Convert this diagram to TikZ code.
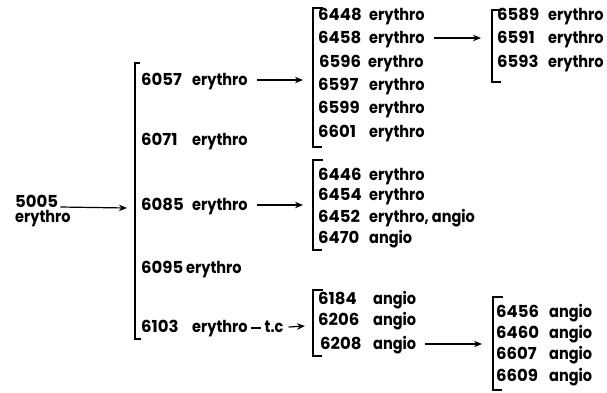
\documentclass[tikz,border=0pt]{standalone}
\usepackage{fontspec}
\setmainfont{Poppins}
\newfontfamily\numf{Poppins}
\newfontfamily\wordf{Poppins}[FakeStretch=0.88]
\usetikzlibrary{arrows.meta}
\newcommand{\ent}[3][51pt]{\makebox[#1][l]{\numf #2}{\wordf #3}}
\tikzset{
  item/.style={anchor=west, inner sep=0pt, text height=11pt, text depth=0pt, font=\fontsize{16.5}{18}\selectfont\bfseries},
  brk/.style={line width=1.4pt},
  arr/.style={line width=1.2pt, -{Stealth[length=8pt,width=6.5pt]}},
}
\begin{document}
\begin{tikzpicture}[x=1pt,y=-1pt]
\useasboundingbox (0,0) rectangle (607,392);
% root
\node[item] (n5005) at (15,201.5) {\numf 5005};
\node[item] (n5005b) at (15,217) {\wordf erythro};
% main bracket
\draw[brk] (140,63) -- (135,63) -- (135,339) -- (141,339);
\node[item] (n6057) at (141,80) {\ent{6057}{erythro}};
\node[item] (n6071) at (141,140) {\ent{6071}{erythro}};
\node[item] (n6085) at (141,205) {\ent{6085}{erythro}};
\node[item] (n6095) at (141,268) {\ent[45pt]{6095}{erythro}};
\node[item] (n6103) at (141,327) {\ent{6103}{erythro\hspace{3pt}\rule[4pt]{10pt}{1.6pt}\hspace{4pt}t.c}};
\coordinate (in1) at (127,208);
\draw[arr] ([xshift=2pt]n5005.base east) -- (in1);
% bracket 2a
\draw[brk] (323,8) -- (313,8) -- (313,147) -- (322,147);
\node[item] (n6448) at (318,15) {\ent{6448}{erythro}};
\node[item] (n6458) at (318,38) {\ent{6458}{erythro}};
\node[item] (n6596) at (319,62) {\ent[49pt]{6596}{erythro}};
\node[item] (n6597) at (318,85) {\ent{6597}{erythro}};
\node[item] (n6599) at (318,108) {\ent{6599}{erythro}};
\node[item] (n6601) at (318,132) {\ent{6601}{erythro}};
\coordinate (in2a) at (303,80);
\draw[arr] ([xshift=9pt]n6057.east) -- (in2a);
% bracket 3
\draw[brk] (502,10) -- (492,10) -- (492,82) -- (501,82);
\node[item] (n6589) at (497,15) {\ent{6589}{erythro}};
\node[item] (n6591) at (497,38) {\ent{6591}{erythro}};
\node[item] (n6593) at (497,62) {\ent{6593}{erythro}};
\coordinate (in3) at (481,38);
\draw[arr] ([xshift=9pt]n6458.east) -- (in3);
% bracket 2b
\draw[brk] (323,160) -- (313,160) -- (313,250) -- (322,250);
\node[item] (n6446) at (318,175) {\ent{6446}{erythro}};
\node[item] (n6454) at (318,195) {\ent{6454}{erythro}};
\node[item] (n6452) at (318,217) {\ent{6452}{erythro, angio}};
\node[item] (n6470) at (318,238) {\ent{6470}{angio}};
\coordinate (in2b) at (303,205);
\draw[arr] ([xshift=9pt]n6085.east) -- (in2b);
% bracket 2c
\draw[brk] (323,290) -- (313,290) -- (313,356) -- (322,356);
\node[item] (n6184) at (318,299) {\ent[55pt]{6184}{angio}};
\node[item] (n6206) at (318,320) {\ent[55pt]{6206}{angio}};
\node[item] (n6208) at (320,344) {\ent[53pt]{6208}{angio}};
\coordinate (in2c) at (305,326);
\draw[arr] ([xshift=5pt]n6103.east) -- (in2c);
% bracket 4
\draw[brk] (503,297) -- (493,297) -- (493,390) -- (502,390);
\node[item] (n6456) at (496,312) {\ent[53pt]{6456}{angio}};
\node[item] (n6460) at (496,333) {\ent[53pt]{6460}{angio}};
\node[item] (n6607) at (496,354) {\ent[53pt]{6607}{angio}};
\node[item] (n6609) at (496,376) {\ent[53pt]{6609}{angio}};
\coordinate (in4) at (482,344);
\draw[arr] ([xshift=9pt]n6208.east) -- (in4);
\end{tikzpicture}
\end{document}
